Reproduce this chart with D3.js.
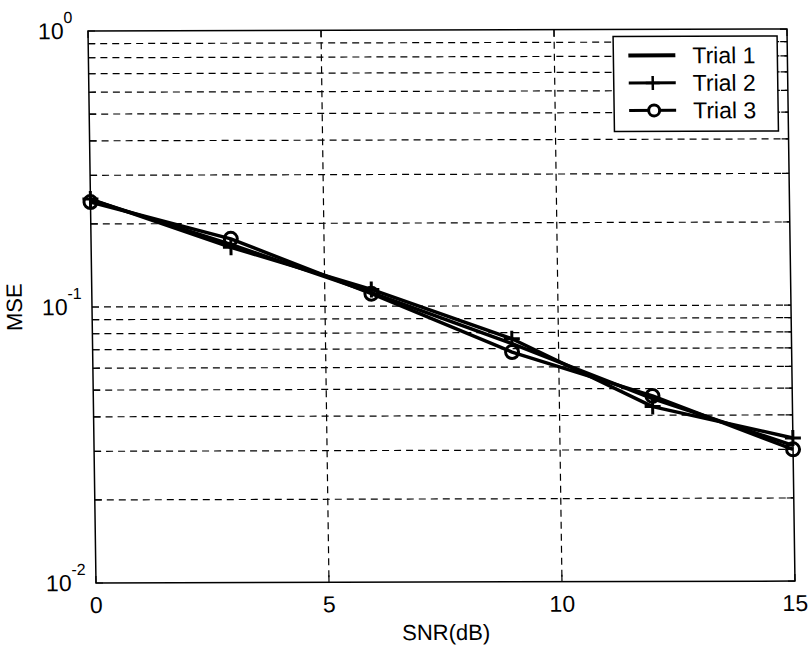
<!DOCTYPE html>
<html>
<head>
<meta charset="utf-8">
<script src="https://cdn.jsdelivr.net/npm/d3@7"></script>
<style>
  body { margin: 0; background: #fff; }
  text { font-family: "Liberation Sans", Arial, sans-serif; fill: #000; }
</style>
</head>
<body>
<div id="chart"></div>
<script>
// values
const snr = [0, 3, 6, 9, 12, 15];
const trial1 = [0.245, 0.168, 0.112, 0.073, 0.046, 0.031];
const trial2 = [0.246, 0.164, 0.115, 0.076, 0.043, 0.033];
const trial3 = [0.240, 0.176, 0.111, 0.068, 0.047, 0.030];
const seriesNames = ["Trial 1", "Trial 2", "Trial 3"];
const xTicks = [0, 5, 10, 15];
const yDecades = [0.01, 0.1, 1];
const yExponents = ["-2", "-1", "0"];

var margin = { top: 31, left: 88 };
var width = 699;
var height = 552;

var x = d3.scaleLinear().domain([0, 15]).range([0, width]);
var y = d3.scaleLog().domain([0.01, 1]).range([height, 0]);

var svg = d3.select("#chart").append("svg")
    .attr("width", 810)
    .attr("height", 649);

// the original is a slightly skewed scan
var g = svg.append("g")
    .attr("transform", `translate(${margin.left},${margin.top}) skewX(0.83) skewY(-0.16)`);

// grid values: every minor and major log step
var gridY = [];
[0.01, 0.1].forEach(function(d) {
    for (var k = 1; k < 10; k++) gridY.push(d * k);
});
gridY = gridY.filter(v => v > 0.01);

g.append("g").selectAll("line")
    .data(gridY)
    .join("line")
    .attr("x1", 0).attr("x2", width)
    .attr("y1", d => y(d)).attr("y2", d => y(d))
    .attr("stroke", "#000").attr("stroke-width", 1.2)
    .attr("stroke-dasharray", "7,5");

g.append("g").selectAll("line")
    .data(xTicks.slice(1, -1))
    .join("line")
    .attr("x1", d => x(d)).attr("x2", d => x(d))
    .attr("y1", 0).attr("y2", height)
    .attr("stroke", "#000").attr("stroke-width", 1.2)
    .attr("stroke-dasharray", "7,5");

// tick marks inside the box on all sides
var tickLen = 7;
var ticksG = g.append("g").attr("stroke", "#000").attr("stroke-width", 1.2);
gridY.concat([0.01, 1]).forEach(function(v) {
    ticksG.append("line").attr("x1", 0).attr("x2", tickLen).attr("y1", y(v)).attr("y2", y(v));
    ticksG.append("line").attr("x1", width - tickLen).attr("x2", width).attr("y1", y(v)).attr("y2", y(v));
});
xTicks.forEach(function(v) {
    ticksG.append("line").attr("x1", x(v)).attr("x2", x(v)).attr("y1", height).attr("y2", height - tickLen);
    ticksG.append("line").attr("x1", x(v)).attr("x2", x(v)).attr("y1", 0).attr("y2", tickLen);
});

g.append("rect")
    .attr("width", width).attr("height", height)
    .attr("fill", "none").attr("stroke", "#000").attr("stroke-width", 1.5);

// tick labels
g.append("g").selectAll("text")
    .data(xTicks)
    .join("text")
    .attr("x", d => x(d))
    .attr("y", height + 30)
    .attr("text-anchor", "middle")
    .attr("font-size", 23)
    .text(d => d);

var yLab = g.append("g").selectAll("text")
    .data(yDecades)
    .join("text")
    .attr("x", -50)
    .attr("y", d => y(d) + 8)
    .attr("font-size", 23);
yLab.append("tspan").text("10");
yLab.append("tspan")
    .attr("dy", -16)
    .attr("font-size", 16)
    .text((d, i) => yExponents[i]);

g.append("text")
    .attr("x", width / 2)
    .attr("y", height + 58)
    .attr("text-anchor", "middle")
    .attr("font-size", 22)
    .text("SNR(dB)");

g.append("text")
    .attr("transform", `translate(-70,${height / 2}) rotate(-90)`)
    .attr("text-anchor", "middle")
    .attr("font-size", 22)
    .text("MSE");

// data lines
var allSeries = [trial1, trial2, trial3];
var line = d3.line()
    .x((d, i) => x(snr[i]))
    .y(d => y(d));

g.append("g").selectAll("path")
    .data(allSeries)
    .join("path")
    .attr("d", d => line(d))
    .attr("fill", "none")
    .attr("stroke", "#000")
    .attr("stroke-width", 3.5)
    .attr("stroke-linejoin", "round");

function plusPath(cx, cy, s) {
    return `M${cx - s},${cy}H${cx + s}M${cx},${cy - s}V${cy + s}`;
}

g.append("g").selectAll("path")
    .data(trial2)
    .join("path")
    .attr("d", (d, i) => plusPath(x(snr[i]), y(d), 8))
    .attr("stroke", "#000").attr("stroke-width", 3);

g.append("g").selectAll("circle")
    .data(trial3)
    .join("circle")
    .attr("cx", (d, i) => x(snr[i]))
    .attr("cy", d => y(d))
    .attr("r", 6.5)
    .attr("fill", "none")
    .attr("stroke", "#000").attr("stroke-width", 3);

// legend
var legend = g.append("g").attr("transform", "translate(525,7)");
legend.append("rect")
    .attr("width", 164).attr("height", 95)
    .attr("fill", "#fff").attr("stroke", "#000").attr("stroke-width", 1.5);

var rows = legend.selectAll("g.row")
    .data(seriesNames)
    .join("g")
    .attr("class", "row")
    .attr("transform", (d, i) => `translate(0,${19 + i * 27.5})`);

rows.append("line")
    .attr("x1", 15).attr("x2", 62)
    .attr("stroke", "#000").attr("stroke-width", (d, i) => i === 0 ? 4 : 3);
rows.append("text")
    .attr("x", 79).attr("y", 8)
    .attr("font-size", 23)
    .text(d => d);

rows.filter((d, i) => i === 1).append("path")
    .attr("d", plusPath(39, 0, 7))
    .attr("stroke", "#000").attr("stroke-width", 2.5);
rows.filter((d, i) => i === 2).append("circle")
    .attr("cx", 40).attr("r", 5.5)
    .attr("fill", "#fff")
    .attr("stroke", "#000").attr("stroke-width", 3);
</script>
</body>
</html>
